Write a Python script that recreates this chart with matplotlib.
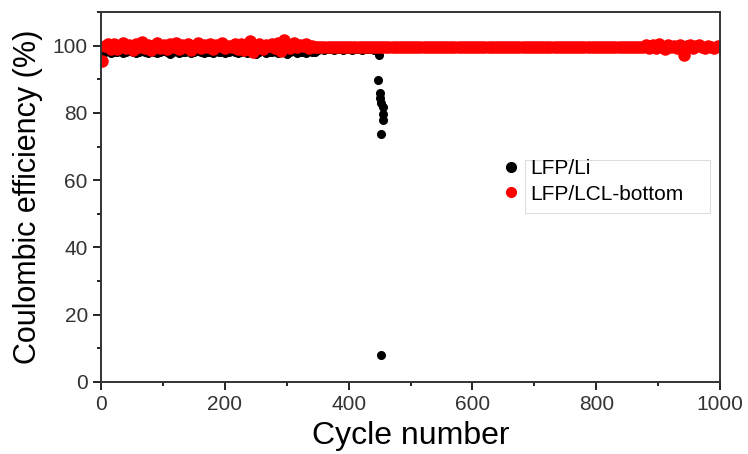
import numpy as np
import matplotlib.pyplot as plt
from matplotlib.patches import Rectangle
from matplotlib.ticker import MultipleLocator

plt.rcParams['font.family'] = ['Liberation Sans', 'DejaVu Sans']

# LFP/Li : cycles 1..446 every 5 cycles, then the failure points
li_cycles = np.arange(1, 447, 5)
li_ce = [97.6, 98.1, 98.3, 97.9, 98.2, 98.0, 98.4, 97.8, 98.1, 98.3,
         98.0, 97.7, 98.2, 98.4, 98.0, 97.9, 98.3, 98.1, 97.8, 98.2,
         98.4, 98.0, 97.6, 98.1, 98.3, 97.9, 98.2, 98.0, 98.4, 97.8,
         98.1, 98.3, 98.0, 97.7, 98.2, 98.1, 97.9, 98.3, 98.0, 98.2,
         97.8, 98.1, 98.4, 98.0, 97.9, 98.2, 98.3, 97.7, 98.1, 98.0,
         97.4, 98.2, 98.3, 97.9, 98.1, 98.0, 98.4, 97.8, 98.2, 98.1,
         97.5, 98.0, 98.3, 97.9, 98.2, 98.1, 97.8, 98.3, 98.0, 98.2,
         98.8, 98.9, 98.8, 99.0, 98.9, 98.8, 99.0, 98.9, 98.8, 98.9,
         99.0, 98.8, 98.9, 99.0, 98.8, 98.9, 99.0, 98.9, 98.8, 98.9]
li_fail_cycles = [449, 448, 450, 451, 453, 456, 455, 455, 452, 453]
li_fail_ce = [97.3, 89.9, 85.8, 84.4, 82.8, 81.9, 79.8, 78.0, 73.6, 8.0]

# LFP/LCL-bottom : cycles 1..996 every 5 cycles
lcl_cycles = np.arange(1, 1001, 5)
lcl_ce = [95.3, 99.8, 100.4, 99.1, 100.6, 98.9, 99.7, 100.9, 99.4, 100.2,
          98.8, 100.5, 99.6, 101.0, 99.2, 100.3, 98.7, 99.9, 100.7, 99.3,
          100.1, 98.9, 100.6, 99.5, 100.9, 99.0, 100.2, 99.7, 100.4, 98.8,
          99.9, 100.8, 99.3, 100.1, 99.6, 100.5, 98.9, 100.3, 99.8, 100.7,
          99.2, 100.0, 99.5, 100.6, 99.1, 100.4, 98.6, 100.3, 101.5, 98.0,
          99.4, 100.5, 99.0, 100.3, 99.8, 100.6, 99.2, 100.9, 98.4, 101.6,
          100.1, 99.3, 100.7, 99.5, 100.2, 99.8, 100.4, 99.4, 100.0, 99.7,
          99.6, 99.5, 99.6, 99.7, 99.6, 99.5, 99.6, 99.6, 99.7, 99.5,
          99.6, 99.6, 99.5, 99.7, 99.6, 99.6, 99.5, 99.6, 99.7, 99.6,
          99.5, 99.6, 99.6, 99.7, 99.5, 99.6, 99.6, 99.5, 99.7, 99.6,
          99.6, 99.5, 99.6, 99.7, 99.6, 99.5, 99.6, 99.6, 99.7, 99.5,
          99.6, 99.6, 99.5, 99.7, 99.6, 99.6, 99.5, 99.6, 99.7, 99.6,
          99.5, 99.6, 99.6, 99.7, 99.5, 99.6, 99.6, 99.5, 99.7, 99.6,
          99.6, 99.5, 99.6, 99.7, 99.6, 99.5, 99.6, 99.6, 99.7, 99.5,
          99.6, 99.6, 99.5, 99.7, 99.6, 99.6, 99.5, 99.6, 99.7, 99.6,
          99.5, 99.6, 99.6, 99.7, 99.5, 99.6, 99.6, 99.5, 99.7, 99.6,
          99.6, 99.5, 99.6, 99.7, 99.6, 99.5, 99.6, 99.6, 99.7, 99.5,
          99.6, 99.6, 99.5, 99.7, 99.6, 99.6, 100.3, 99.2, 100.1, 99.4,
          100.4, 99.6, 99.1, 100.2, 99.5, 100.0, 99.3, 100.3, 97.2, 99.8,
          100.1, 99.4, 99.9, 100.2, 99.5, 99.2, 100.0, 99.6, 99.3, 99.8]

fig = plt.figure(figsize=(7.48, 4.54), dpi=100)
ax = fig.add_axes([0.135, 0.1586, 0.8276, 0.815])

ax.plot(li_cycles, li_ce, 'o', color='black', ms=5.5, mec='black', label='LFP/Li')
ax.plot(li_fail_cycles, li_fail_ce, 'o', color='black', ms=5.5, mec='black')
ax.plot(lcl_cycles, lcl_ce, 'o', color='red', ms=8, mec='red', label='LFP/LCL-bottom')

ax.set_xlim(0, 1000)
ax.set_ylim(0, 110)
ax.xaxis.set_major_locator(MultipleLocator(200))
ax.xaxis.set_minor_locator(MultipleLocator(100))
ax.yaxis.set_major_locator(MultipleLocator(20))
ax.yaxis.set_minor_locator(MultipleLocator(10))
ax.tick_params(which='major', direction='out', length=6, width=1.2,
               labelsize=15, labelcolor='#333333')
ax.tick_params(which='minor', direction='out', length=3, width=1.2)
for s in ax.spines.values():
    s.set_linewidth(1.4)
    s.set_color('#333333')

ax.set_xlabel('Cycle number', fontsize=23, labelpad=5)
ax.set_ylabel('Coulombic efficiency (%)', fontsize=22, labelpad=7)

# legend: markers sit left of the framed box
leg = ax.legend(loc='upper left', bbox_to_anchor=(0.639, 0.624), frameon=False,
                fontsize=15, handletextpad=0.6, borderaxespad=0, labelspacing=0.3,
                handlelength=0.6)
for h in leg.legend_handles:
    h.set_markersize(7)
ax.add_patch(Rectangle((0.685, 0.457), 0.299, 0.143, transform=ax.transAxes,
                       fill=False, edgecolor='#dddddd', lw=0.8))

fig.savefig('out.png', dpi=100)
